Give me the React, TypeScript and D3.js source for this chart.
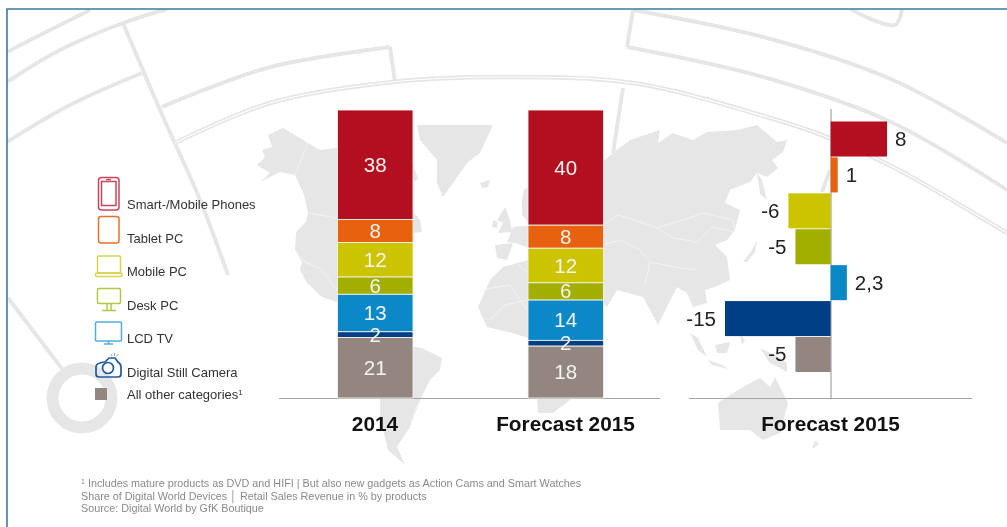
import React from "react";
import * as d3 from "d3";

const categories = ["Smart-/Mobile Phones", "Tablet PC", "Mobile PC", "Desk PC", "LCD TV", "Digital Still Camera", "All other categories"];
const colors = ["#b30f20", "#e8610f", "#cdc400", "#a2ae00", "#0a88c8", "#003f86", "#93857f"];
const values2014 = [38, 8, 12, 6, 13, 2, 21];
const valuesForecast = [40, 8, 12, 6, 14, 2, 18];
const changeValues = [8, 1, -6, -5, 2.3, -15, -5];
const changeLabels = ["8", "1", "-6", "-5", "2,3", "-15", "-5"];
const columnLabels = ["2014", "Forecast 2015"];
const footnotes = [
  "Includes mature products as DVD and HIFI | But also new gadgets as Action Cams and Smart Watches",
  "Share of Digital World Devices │ Retail Sales Revenue in % by products",
  "Source: Digital World by GfK Boutique",
];

const FONT = "'Liberation Sans', Arial, sans-serif";
const BG = "#e6e6e6";
const MAP = "#e6e6e6";

type P = [number, number];
const land: P[][] = [
  [[268,135],[283,128],[308,143],[320,150],[345,147],[345,300],[337,302],[322,297],[307,283],[300,270],[302,262],[295,250],[296,232],[306,222],[308,213],[304,195],[295,175],[280,172],[260,182],[270,173],[257,165],[265,157],[262,150],[272,147]],
  [[413,165],[418,178],[415,182],[413,178]],
  [[413,212],[420,220],[422,232],[413,233]],
  [[405,345],[422,348],[442,358],[440,370],[430,380],[421,398],[410,427],[397,447],[405,465],[388,450],[380,417],[380,395],[390,360]],
  [[417,125],[457,125],[493,125],[480,153],[468,162],[460,173],[443,197],[437,183],[437,160],[420,140]],
  [[480,183],[490,180],[488,187],[482,188]],
  [[505,207],[510,220],[512,232],[498,233],[503,223],[497,220]],
  [[493,220],[498,222],[497,228],[492,227]],
  [[522,200],[524,190],[530,186],[535,200],[530,225],[522,215]],
  [[495,245],[513,243],[507,260],[497,258]],
  [[507,242],[513,227],[535,225],[535,250],[515,243]],
  [[490,280],[503,267],[535,258],[535,340],[512,333],[487,327],[478,307]],
  [[530,395],[537,398],[538,413],[553,413],[570,400],[578,385],[530,385]],
  [[595,167],[605,160],[613,153],[630,140],[660,130],[658,143],[673,133],[693,140],[707,132],[737,130],[757,125],[777,142],[787,140],[783,152],[772,160],[778,168],[767,177],[757,173],[750,182],[730,190],[725,203],[740,210],[735,230],[727,240],[715,245],[727,257],[730,280],[715,287],[705,290],[707,303],[693,307],[687,293],[677,287],[658,325],[643,297],[617,290],[607,307],[595,295]],
  [[757,173],[762,180],[767,200],[760,194]],
  [[743,262],[752,250],[757,240],[755,252],[747,262]],
  [[690,333],[698,338],[707,357],[698,350]],
  [[715,345],[730,342],[727,353],[717,353]],
  [[708,360],[722,365],[728,369],[712,365]],
  [[760,348],[775,355],[787,363],[787,372],[770,363]],
  [[740,335],[745,340],[742,345]],
  [[718,403],[743,387],[760,378],[770,387],[775,377],[788,403],[780,433],[763,440],[750,430],[720,430]],
  [[815,440],[819,444],[812,449]],
];
const borders: P[][] = [
  [[308,143],[295,175]],
  [[308,213],[337,218]],
  [[295,250],[305,262],[320,268],[337,290]],
  [[603,225],[618,215],[640,222],[657,228],[683,220],[703,213],[733,220],[735,232],[712,227],[697,242],[673,238],[657,228]],
  [[603,245],[620,240],[640,250],[650,262],[680,268],[697,270]],
  [[650,262],[645,285]],
  [[480,290],[510,285],[520,300],[527,310]],
  [[490,320],[505,305],[527,300]],
  [[410,427],[418,402]],
  [[530,275],[515,262]],
];
const swooshes: { pts: P[]; w: number }[] = [
  { pts: [[7,52],[50,30],[90,10]], w: 4 },
  { pts: [[7,82],[60,50],[123,23],[167,9]], w: 4 },
  { pts: [[7,142],[70,105],[142,73]], w: 4 },
  { pts: [[123,23],[160,110],[200,200],[228,275]], w: 4 },
  { pts: [[162,107],[267,68],[390,47]], w: 4 },
  { pts: [[390,47],[395,82]], w: 4 },
  { pts: [[627,47],[767,78],[893,123],[1007,190]], w: 4 },
  { pts: [[633,10],[767,38],[893,80],[1007,143]], w: 4 },
  { pts: [[633,10],[627,47]], w: 4 },
  { pts: [[850,9],[895,25],[902,9]], w: 4 },
  { pts: [[623,88],[613,153]], w: 4 },
  { pts: [[822,192],[830,170]], w: 4 },
  { pts: [[8,298],[63,370]], w: 4 },
];
const doubleArc: P[] = [[175,143],[270,103],[393,82],[500,77],[633,83],[767,117],[827,137],[893,167],[1007,233]];

const curved = d3.line<P>().curve(d3.curveCatmullRom.alpha(0.5));
const straight = d3.line<P>();

const H = d3.scaleLinear().domain([0, 100]).range([110, 398]);
const colX = d3.scaleBand<string>().domain(columnLabels).range([337.5, 603.5]).paddingInner(0.6037);
const chX = d3.scaleLinear().domain([-15, 8]).range([725, 887]);
const rowY = d3.scaleBand<string>().domain(categories).range([121.5, 372]).paddingInner(0.025);

const rows = columnLabels.map((c, i) => {
  const o: Record<string, number | string> = { col: c };
  categories.forEach((k, j) => (o[k] = (i === 0 ? values2014 : valuesForecast)[j]));
  return o;
});
const stacked = d3.stack<Record<string, number | string>>().keys(categories)(rows as any);

const centers = [375, 565.5, 830.5];
const legendBase = [209, 243, 276, 310, 343, 377, 399];

function Icons() {
  const c = { fill: "none", strokeWidth: 1.5 } as const;
  return (
    <g>
      <g stroke="#c8465c" {...c}>
        <rect x={98.5} y={177.5} width={20.5} height={32.5} rx={3} />
        <rect x={101.5} y={181.5} width={14.5} height={24} />
        <line x1={106} x2={111} y1={179.6} y2={179.6} />
      </g>
      <rect x={98.5} y={216.5} width={20.5} height={26.5} rx={2.5} stroke="#e8702a" {...c} />
      <g stroke="#d8d24f" {...c}>
        <rect x={97.5} y={256} width={23} height={17} rx={1} />
        <rect x={95.5} y={273} width={26.5} height={3.5} rx={1.5} />
      </g>
      <g stroke="#b5c645" {...c}>
        <rect x={97.5} y={288.5} width={23} height={15} rx={1.5} />
        <path d="M107 303.5V310M111 303.5V310M102 310.5H116" />
      </g>
      <g stroke="#4fb0dc" {...c}>
        <rect x={95.5} y={322} width={26} height={19} rx={1} />
        <path d="M108.5 341V343.5M104 344H113" />
      </g>
      <g stroke="#1f5a9e" {...c} strokeWidth={1.7}>
        <path d="M100 363Q102 362 105 362L109 358H115L118 362Q121 364 121 367V374Q121 377 118 377H99Q96 377 96 374V367Q96 364 100 363Z" />
        <circle cx={108} cy={368} r={5.5} />
      </g>
      <path d="M108 357L110 358M111 354L112 356.5M114.500 353V356M118 354L116.500 356.500" stroke="#6f9cc8" strokeWidth={0.8} fill="none" />
      <rect x={95} y={388} width={12} height={12} fill={colors[6]} />
    </g>
  );
}

export default function App() {
  return (
    <svg width={1007} height={527} viewBox="0 0 1007 527" style={{ position: "absolute", left: 0, top: 0, background: "#fff" }} fontFamily={FONT}>
      <defs>
        <filter id="soft" x="0" y="0" width="100%" height="100%" colorInterpolationFilters="sRGB">
          <feGaussianBlur stdDeviation={0.4} />
        </filter>
      </defs>
      <rect width={1007} height={527} fill="#fff" />
      <g filter="url(#soft)">
      {/* background decoration */}
      <g fill="none" stroke={BG} strokeLinejoin="miter">
        {swooshes.map((s, i) => (
          <path key={i} d={(s.pts.length > 2 ? curved : straight)(s.pts) as string} strokeWidth={s.w} />
        ))}
        <path d={curved(doubleArc) as string} strokeWidth={4.6} />
        <path d={curved(doubleArc) as string} strokeWidth={1.2} stroke="#fff" />
        <circle cx={82} cy={398} r={29.500} strokeWidth={12} />
      </g>
      <g fill={MAP}>
        {land.map((p, i) => (
          <path key={i} d={(straight(p) as string) + "Z"} />
        ))}
      </g>
      <g fill="none" stroke="#f6f6f6" strokeWidth={0.8}>
        {borders.map((p, i) => (
          <path key={i} d={straight(p) as string} />
        ))}
      </g>

      {/* axes */}
      <g stroke="#a3a3a3" strokeWidth={1.2}>
        <line x1={279} x2={660} y1={398.5} y2={398.5} />
        <line x1={689} x2={972} y1={398.5} y2={398.5} />
        <line x1={831} x2={831} y1={109} y2={398.5} />
      </g>

      {/* stacked columns */}
      {stacked.map((layer, i) => (
        <g key={layer.key}>
          {layer.map((d, j) => {
            const col = columnLabels[j];
            return (
              <rect key={col} x={colX(col)} y={H(d[0])} width={colX.bandwidth()} height={H(d[1]) - H(d[0])} fill={colors[i]} stroke="#f4f1ea" strokeWidth={0.9} />
            );
          })}
        </g>
      ))}
      {stacked.map((layer) => (
        <g key={layer.key}>
          {layer.map((d, j) => {
            const col = columnLabels[j];
            return (
              <text key={col} x={(colX(col) as number) + colX.bandwidth() / 2} y={(H(d[0]) + H(d[1])) / 2 + 7} textAnchor="middle" fontSize={20.5} fill="#f4f4f0">
                {d[1] - d[0]}
              </text>
            );
          })}
        </g>
      ))}

      {/* change bars */}
      {categories.map((k, i) => {
        const v = changeValues[i];
        const x0 = chX(Math.min(v, 0));
        const x1 = chX(Math.max(v, 0));
        const y = rowY(k) as number;
        const cy = y + rowY.bandwidth() / 2;
        return (
          <g key={k}>
            <rect x={x0} y={y} width={x1 - x0} height={rowY.bandwidth()} fill={colors[i]} />
            <text x={v >= 0 ? x1 + 8 : x0 - 9} y={cy + 7} textAnchor={v >= 0 ? "start" : "end"} fontSize={20.5} fill="#222">
              {changeLabels[i]}
            </text>
          </g>
        );
      })}

      {/* column labels */}
      {[...columnLabels, columnLabels[1]].map((t, i) => (
        <text key={i} x={centers[i]} y={431} textAnchor="middle" fontSize={20.800} fontWeight={700} fill="#111">
          {t}
        </text>
      ))}

      {/* legend */}
      <Icons />
      {categories.map((k, i) => (
        <text key={k} x={127} y={legendBase[i]} fontSize={13} fill="#333">
          {k}
          {i === 6 ? <tspan fontSize={8} dy={-4}>1</tspan> : null}
        </text>
      ))}

      {/* footnotes */}
      <g fontSize={10.8} fill="#8a8a8a">
        <text x={81} y={487}>
          <tspan fontSize={7} dy={-3}>1</tspan>
          <tspan dy={3}> {footnotes[0]}</tspan>
        </text>
        <text x={81} y={499.500}>{footnotes[1]}</text>
        <text x={81} y={512}>{footnotes[2]}</text>
      </g>
      </g>

      {/* frame */}
      <path d="M7 527V9H1007" fill="none" stroke="#3f7a9c" strokeWidth={1.6} />
    </svg>
  );
}
